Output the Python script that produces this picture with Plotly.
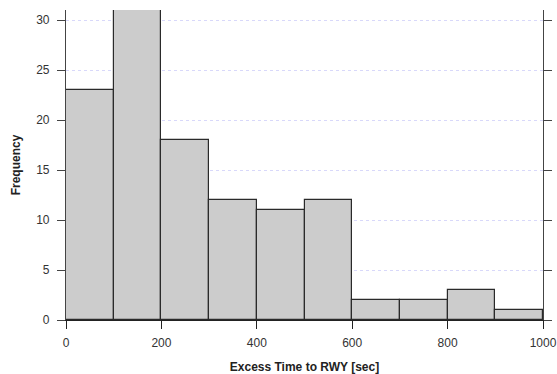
import plotly.graph_objects as go

bin_starts = [0, 100, 200, 300, 400, 500, 600, 700, 800, 900]
bin_width = 100
frequency = [23, 31, 18, 12, 11, 12, 2, 2, 3, 1]
x_ticks = [0, 200, 400, 600, 800, 1000]
y_ticks = [0, 5, 10, 15, 20, 25, 30]

centers = [s + bin_width / 2 for s in bin_starts]

fig = go.Figure()
fig.add_trace(go.Bar(
    x=centers, y=frequency, width=[bin_width] * len(centers),
    marker=dict(color="#cccccc", line=dict(color="#2a2a2a", width=1.2)),
    showlegend=False,
))

axis_font = dict(family="Liberation Sans, Arial, sans-serif", size=12, color="#333333")
title_font = dict(family="Liberation Sans, Arial, sans-serif", size=12, color="#222222", weight="bold")

fig.update_layout(
    width=557, height=374,
    margin=dict(l=66, r=14, t=10, b=54),
    paper_bgcolor="white", plot_bgcolor="white",
    bargap=0,
    xaxis=dict(
        range=[0, 1000], tickvals=x_ticks, ticks="outside", ticklen=8, tickwidth=1.2,
        tickcolor="#222222", showline=True, linecolor="#222222", linewidth=1.2,
        showgrid=False, zeroline=False, tickfont=axis_font, automargin=False,
        ticklabelstandoff=3,
        title=dict(text="Excess Time to RWY [sec]", font=title_font, standoff=16),
    ),
    yaxis=dict(
        range=[0, 31], tickvals=y_ticks, ticks="outside", ticklen=8, tickwidth=1.2,
        tickcolor="#444444", showline=True, linecolor="#444444", linewidth=1.2,
        mirror="ticks", showgrid=True, gridcolor="#d8d8fa", griddash="dot", gridwidth=1,
        zeroline=False, tickfont=axis_font, automargin=False, ticklabelstandoff=5,
        title=dict(text="Frequency", font=title_font, standoff=12),
    ),
)

fig.write_html("out.html")
